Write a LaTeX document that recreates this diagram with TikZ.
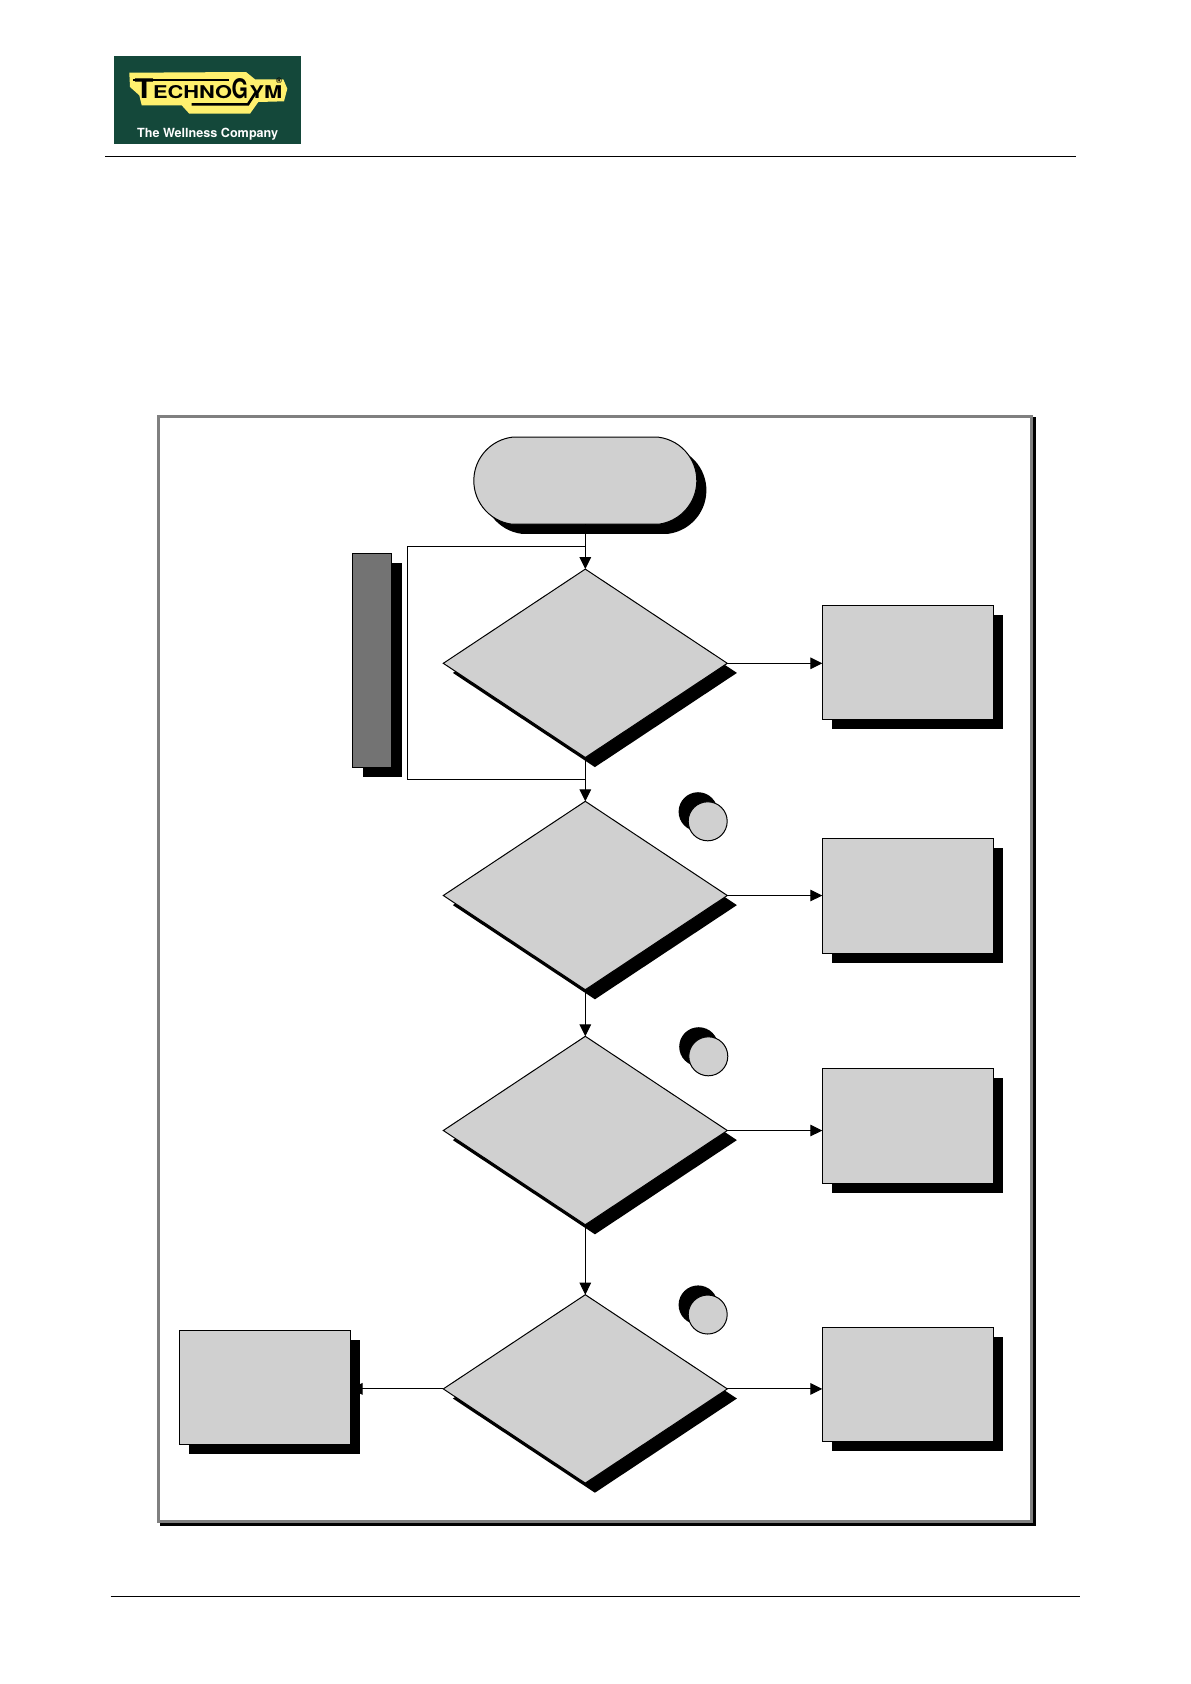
\documentclass[tikz,border=0pt]{standalone}
\usepackage{fontspec}
\usepackage{graphicx}
\setmainfont{TeX Gyre Heros}
\usetikzlibrary{shapes.geometric, shapes.misc, shadows, arrows.meta}
\usepackage{xcolor}
\definecolor{logogreen}{RGB}{20,72,58}
\definecolor{logoyellow}{RGB}{255,240,110}
\definecolor{boxgray}{RGB}{208,208,208}
\definecolor{bargray}{RGB}{115,115,115}
\definecolor{framegray}{RGB}{128,128,128}

\begin{document}
\begin{tikzpicture}[x=0.5bp, y=-0.5bp]
  \tikzset{
    flowshadow/.style={
      general shadow={shadow xshift=4.8bp, shadow yshift=-4.8bp, fill=black}
    },
    terminal/.style={
      draw,
      flowshadow,
      shape=rounded rectangle,
      rounded rectangle arc length=165,
      minimum width=111.5bp,
      minimum height=43.5bp,
      inner sep=0pt,
      outer sep=0pt,
      line width=0.5bp,
      fill=boxgray
    },
    decision/.style={
      draw,
      flowshadow,
      shape=diamond,
      minimum width=142bp,
      minimum height=94.2bp,
      inner sep=0pt,
      outer sep=0pt,
      line width=0.5bp,
      fill=boxgray
    },
    action/.style={
      draw,
      flowshadow,
      minimum width=85.5bp,
      minimum height=57.2bp,
      inner sep=0pt,
      outer sep=0pt,
      line width=0.5bp,
      fill=boxgray
    },
    sidebar/.style={
      draw,
      general shadow={shadow xshift=5.1bp, shadow yshift=-4.8bp, fill=black},
      minimum width=19.5bp,
      minimum height=107bp,
      inner sep=0pt,
      outer sep=0pt,
      line width=0.5bp,
      fill=bargray
    },
    marker/.style={
      draw,
      circle,
      general shadow={shadow xshift=-4.8bp, shadow yshift=4.8bp, fill=black},
      minimum size=19.5bp,
      inner sep=0pt,
      outer sep=0pt,
      line width=0.5bp,
      fill=boxgray
    },
    flow/.style={
      draw,
      line width=0.5bp,
      -{Triangle[length=6bp, width=5.8bp]}
    },
    plainflow/.style={
      draw,
      line width=0.5bp
    },
    pagerule/.style={
      draw,
      line width=0.6bp
    },
    logotext/.style={
      anchor=base west,
      inner sep=0pt,
      outer sep=0pt,
      text=black,
      font=\bfseries
    }
  }
  \useasboundingbox (0,0) rectangle (1191,1684);

  % Draw the page rules
  \coordinate (headleft) at (105,156.3);
  \coordinate (headright) at (1076,156.3);
  \coordinate (footleft) at (110.5,1596.3);
  \coordinate (footright) at (1080,1596.3);
  \draw[pagerule] (headleft) -- (headright);
  \draw[pagerule] (footleft) -- (footright);

  % Draw the logo
  \node[fill=logogreen, minimum width=93.7bp, minimum height=43.8bp, inner sep=0pt] (logo) at (207.3,99.8) {};
  \fill[logoyellow] (129.3,72.7) -- (246,72) -- (255,79.3) -- (283.3,79.3) -- (287.3,88.7)
    -- (284,101.3) -- (258.3,102) -- (250,113.7) -- (189.3,113.7) -- (181.7,105.3)
    -- (141.7,105.3) -- (139.3,95.3) -- (130,87) -- cycle;
  \fill (133.3,78.7) rectangle (229.3,81.3);
  \node[logotext] (logot) at (134.5,98.3) {\fontsize{13.5bp}{13.5bp}\selectfont\scalebox{1.15}[1]{T}};
  \node[logotext] (logoechno) at (153,98.3) {\fontsize{8.8bp}{8.8bp}\selectfont\scalebox{1.24}[1]{ECHNO}};
  \node[logotext] (logog) at (231.5,98.3) {\fontsize{13.5bp}{13.5bp}\selectfont\scalebox{0.78}[1]{G}};
  \node[logotext] (logoym) at (249.5,98.3) {\fontsize{8.8bp}{8.8bp}\selectfont\scalebox{1.24}[1]{YM}};
  \node[logotext] (logoreg) at (276,83.5) {\fontsize{4bp}{4bp}\selectfont ®};
  \draw[line width=1.3bp] (191.7,104.3) -- (248,104.3) -- (256,92);
  \node[anchor=center, inner sep=0pt, text=white, font=\bfseries\fontsize{6.3bp}{6.3bp}\selectfont] (logotag) at (207.7,134) {The Wellness Company};

  % Draw the outer frame
  \node[fill=black, minimum width=437.85bp, minimum height=554.35bp, inner sep=0pt, outer sep=0pt] (frameshadow) at (597.85,971.65) {};
  \node[draw=framegray, line width=1.5bp, fill=white,
    minimum width=436.5bp, minimum height=552.5bp, inner sep=0pt, outer sep=0pt] (frame) at (595,968.8) {};

  % Draw the loop beside the first decision
  \coordinate (loopa) at (585.3,546.3);
  \coordinate (loopb) at (407.3,546.3);
  \coordinate (loopc) at (407.3,779.3);
  \coordinate (loopd) at (585.3,779.3);
  \draw[plainflow] (loopa) -- (loopb) -- (loopc) -- (loopd);

  % Draw the flow shapes
  \node[terminal] at (585.3,480.7) (start) {};
  \node[sidebar] at (372,660.3) (bar0) {};
  \node[decision] at (585.3,663.3) (decision0) {};
  \node[decision] at (585.3,895.5) (decision1) {};
  \node[decision] at (585.3,1130.5) (decision2) {};
  \node[decision] at (585.3,1388.9) (decision3) {};
  \node[action] at (907.8,662.5) (action0) {};
  \node[action] at (907.8,895.8) (action1) {};
  \node[action] at (907.8,1126) (action2) {};
  \node[action] at (907.8,1384.4) (action3) {};
  \node[action] at (265,1387.5) (action4) {};

  % Draw the round markers
  \node[marker] at (707.7,821.3) (marker0) {};
  \node[marker] at (708.3,1056.3) (marker1) {};
  \node[marker] at (707.7,1314.5) (marker2) {};

  % Draw the arrows between the shapes
  \draw[flow] (start.south) -- (decision0.north);
  \draw[flow] (decision0.south) -- (decision1.north);
  \draw[flow] (decision1.south) -- (decision2.north);
  \draw[flow] (decision2.south) -- (decision3.north);
  \draw[flow] (decision0.east) -- (decision0.east -| action0.west);
  \draw[flow] (decision1.east) -- (decision1.east -| action1.west);
  \draw[flow] (decision2.east) -- (decision2.east -| action2.west);
  \draw[flow] (decision3.east) -- (decision3.east -| action3.west);
  \draw[flow] (decision3.west) -- (decision3.west -| action4.east);

\end{tikzpicture}
\end{document}
